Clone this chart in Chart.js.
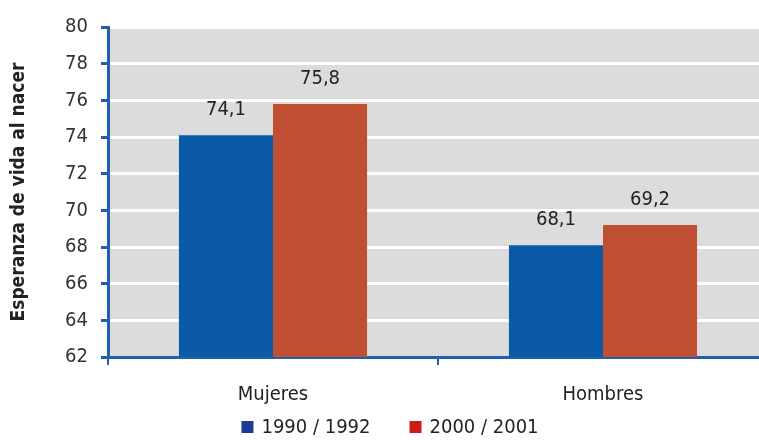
<!DOCTYPE html>
<html>
<head>
<meta charset="utf-8">
<script src="https://cdn.jsdelivr.net/npm/chart.js@4"></script>
<style>
  html, body { margin: 0; padding: 0; background: #fff; overflow: hidden; }
  #wrap { width: 759px; height: 440px; overflow: hidden; }
</style>
</head>
<body>
<div id="wrap"><canvas id="lifeChart" width="768" height="440"></canvas></div>
<script>
const categories = ['Mujeres', 'Hombres'];
const seriesNames = ['1990 / 1992', '2000 / 2001'];
const values1990 = [74.1, 68.1];
const values2000 = [75.8, 69.2];
const yTicks = [62, 64, 66, 68, 70, 72, 74, 76, 78, 80];

const FONT = "'Liberation Sans Narrow', 'DejaVu Sans Condensed', 'Arial Narrow', sans-serif";
const AXIS_BLUE = '#1f5fae';
const barColors = ['#0b5aa8', '#c04f34'];
const legendColors = ['#1a3c98', '#cc1a1a'];

// gray plot background, value labels and the bottom legend
const extras = {
  id: 'extras',
  beforeDraw(chart) {
    const a = chart.chartArea, ctx = chart.ctx;
    ctx.save();
    ctx.fillStyle = '#dcdcdc';
    ctx.fillRect(a.left, a.top, a.right - a.left, a.bottom - a.top);
    ctx.restore();
  },
  afterDatasetsDraw(chart) {
    const ctx = chart.ctx;
    ctx.save();
    ctx.font = '20px ' + FONT;
    ctx.fillStyle = '#222';
    ctx.textAlign = 'center';
    ctx.textBaseline = 'middle';
    chart.data.datasets.forEach((ds, i) => {
      chart.getDatasetMeta(i).data.forEach((bar, j) => {
        ctx.fillText(ds.data[j].toFixed(1).replace('.', ','), bar.x, bar.y - 25);
      });
    });
    ctx.restore();
  },
  afterDraw(chart) {
    const ctx = chart.ctx;
    const box = 12, gap = 8, itemGap = 39, y = 427;
    ctx.save();
    ctx.font = '20px ' + FONT;
    ctx.textBaseline = 'middle';
    ctx.textAlign = 'left';
    const items = chart.data.datasets.map((ds, i) => ({
      text: ds.label, color: legendColors[i], w: box + gap + ctx.measureText(ds.label).width
    }));
    const total = items.reduce((s, it) => s + it.w, 0) + itemGap * (items.length - 1);
    let x = 390 - total / 2;
    items.forEach(it => {
      ctx.fillStyle = it.color;
      ctx.fillRect(x, y - box / 2, box, box);
      ctx.fillStyle = '#222';
      ctx.fillText(it.text, x + box + gap, y + 1);
      x += it.w + itemGap;
    });
    ctx.restore();
  }
};

new Chart(document.getElementById('lifeChart').getContext('2d'), {
  type: 'bar',
  data: {
    labels: categories,
    datasets: [
      { label: seriesNames[0], data: values1990, backgroundColor: barColors[0] },
      { label: seriesNames[1], data: values2000, backgroundColor: barColors[1] }
    ]
  },
  options: {
    responsive: false,
    animation: false,
    layout: { padding: { top: 27, right: 0, left: 0, bottom: 30 } },
    datasets: { bar: { categoryPercentage: 0.57, barPercentage: 1.0 } },
    plugins: {
      legend: { display: false },
      tooltip: { enabled: false }
    },
    scales: {
      x: {
        grid: {
          offset: true,
          drawOnChartArea: false,
          color: AXIS_BLUE,
          lineWidth: 2,
          tickLength: 8
        },
        border: { color: AXIS_BLUE, width: 3 },
        ticks: { font: { family: FONT, size: 20 }, color: '#222', padding: 18 },
        afterFit(scale) { scale.height = 53; }
      },
      y: {
        min: 62,
        max: 80,
        afterBuildTicks(scale) { scale.ticks = yTicks.map(v => ({ value: v })); },
        grid: {
          color: '#ffffff',
          lineWidth: 3,
          tickColor: AXIS_BLUE,
          tickLength: 7,
          tickWidth: 3,
          drawTicks: true
        },
        border: { color: AXIS_BLUE, width: 3 },
        ticks: { font: { family: FONT, size: 20 }, color: '#333', padding: 13 },
        title: {
          display: true,
          text: 'Esperanza de vida al nacer',
          font: { family: FONT, size: 19, weight: 'bold' },
          color: '#222',
          padding: { top: 8, bottom: 10 }
        },
        afterFit(scale) { scale.width = 108; }
      }
    }
  },
  plugins: [extras]
});
</script>
</body>
</html>
